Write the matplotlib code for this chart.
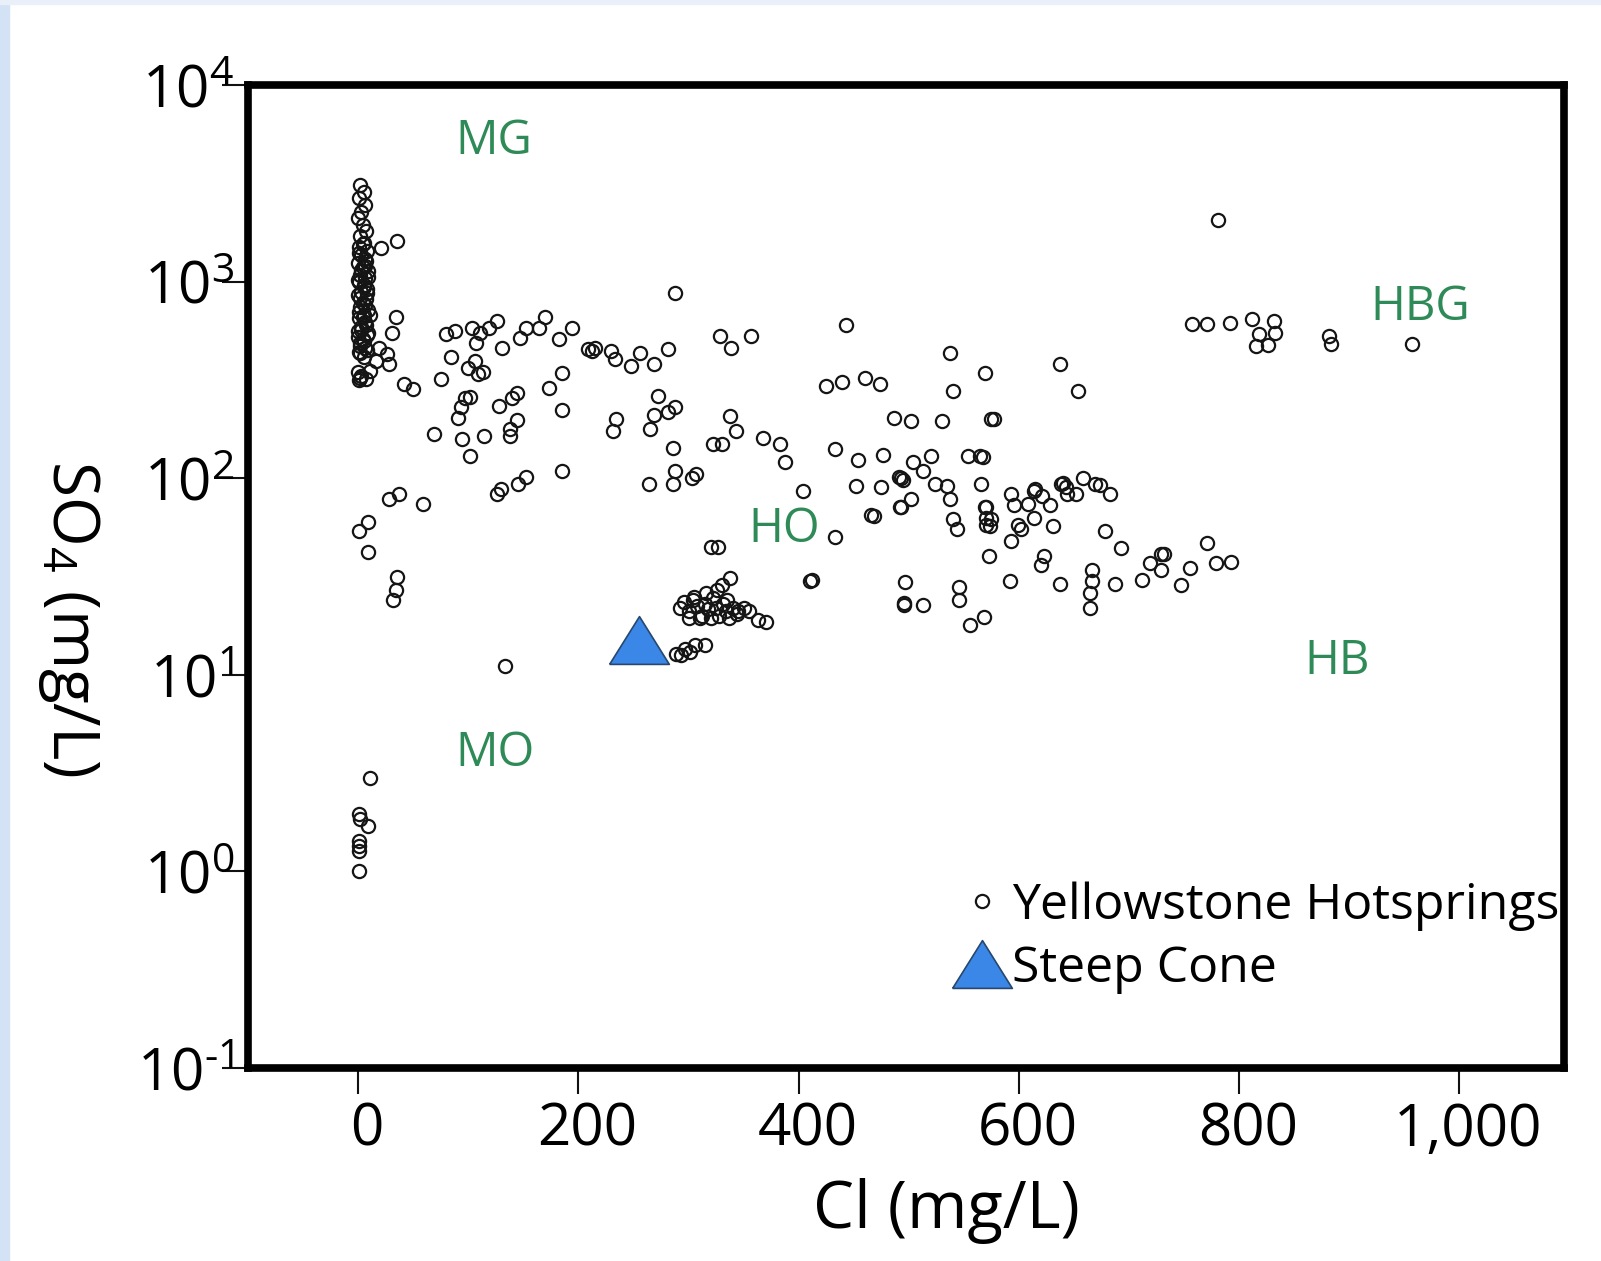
import math
import matplotlib
matplotlib.use("Agg")
import matplotlib.pyplot as plt
from matplotlib.ticker import FixedLocator, FuncFormatter, NullLocator
from matplotlib.patches import Rectangle
from matplotlib.transforms import ScaledTranslation

plt.rcParams['font.family'] = ['Open Sans', 'DejaVu Sans']
plt.rcParams['mathtext.fontset'] = 'custom'
plt.rcParams['mathtext.rm'] = 'Open Sans'
plt.rcParams['mathtext.it'] = 'Open Sans:italic'
plt.rcParams['mathtext.bf'] = 'Open Sans:bold'

# Yellowstone hot springs, Cl vs SO4 (mg/L)
cl_hot = [
    # Cl ~ 0 column
    2, 5, 1, 6, 3, 0, 4, 7, 2, 5, 1, 8, 3, 6, 0, 4, 9, 2, 6, 1, 5, 8, 3, 0, 7, 4, 2, 9, 5, 1,
    6, 3, 0, 8, 4, 2, 6, 1, 5, 3, 7, 0,
    4, 1, 7, 3, 9, 0, 5, 8, 2, 6, 1, 4, 7, 3, 9, 0, 5, 2, 8, 6,
    21, 35, 11, 34, 31, 2, 19, 26, 16, 28, 11, 2, 1, 42, 50,
    # 60-220 upper band
    80, 88, 103, 111, 119, 126, 107, 131, 147, 152, 164, 170, 182, 194, 209, 212, 215, 84, 100, 109,
    113, 106, 75, 185, 173, 97, 102, 93, 91, 128, 140, 144, 185, 144, 138, 138, 69, 94, 114, 102,
    185, 152, 145, 126, 130, 37, 28, 59,
    # low Cl, low SO4
    9, 1, 9, 35, 34, 32, 133, 11, 1, 2, 9, 1, 1, 1, 1,
    # 220-450 upper
    230, 233, 248, 256, 269, 281, 288, 329, 339, 357, 443, 272, 281, 288, 269, 234, 231, 265, 286, 288,
    286, 264, 303, 307, 322, 330, 343, 338, 368, 383, 388, 433, 404, 433,
    # HO cluster
    320, 327, 338, 330, 326, 292, 296, 300, 304, 308, 312, 315, 318, 322, 325, 328, 331, 334, 337, 340,
    344, 300, 310, 320, 335, 305, 316, 345, 350, 355, 363, 370, 297, 306, 315, 293, 301, 289,
    # 400-600
    410, 412, 468, 493, 497, 496, 425, 439, 460, 474, 537, 569, 540, 454, 477, 452, 475, 466, 493, 495,
    491, 504, 520, 513, 524, 535, 537, 502, 492, 530, 554, 565, 567, 566, 487, 502, 540, 544, 569, 570,
    573, 546, 575, 577, 513, 496, 546, 556, 568,
    # 590-800
    637, 654, 570, 570, 575, 574, 593, 596, 608, 614, 615, 621, 628, 638, 640, 643, 644, 652, 658, 669,
    674, 683, 614, 599, 602, 593, 631, 678, 693, 623, 620, 592, 637, 666, 666, 665, 665, 687, 712, 719,
    729, 732, 729, 747, 755, 771, 779, 793,
    # high Cl (HBG)
    781, 757, 771, 792, 812, 832, 818, 833, 815, 826, 882, 883, 957,
]
so4_hot = [
    3100, 2850, 2650, 2450, 2250, 2100, 1950, 1800, 1700, 1580, 1500, 1430, 1360, 1300, 1240, 1180, 1130, 1080, 1040, 1000,
    960, 920, 885, 850, 815, 780, 745, 715, 680, 650, 620, 590, 560, 535, 510, 485, 460, 440, 415, 330,
    320, 345,
    1550, 1400, 1270, 1150, 1060, 1020, 940, 870, 830, 760, 700, 660, 600, 570, 545, 520, 500, 470, 450, 1200,
    1486, 1614, 680, 658, 550, 432, 459, 430, 393, 380, 352, 324, 316, 301, 284,
    542, 562, 584, 550, 578, 633, 488, 459, 518, 584, 578, 658, 508, 584, 453, 445, 460, 415, 365, 340,
    345, 393, 320, 344, 287, 257, 260, 229, 203, 232, 257, 270, 223, 198, 178, 164, 168, 158, 164, 129,
    109, 102, 93, 83, 88, 83, 78, 74,
    60, 54, 42, 31.6, 27, 24, 11.1, 3.0, 1.96, 1.85, 1.71, 1.43, 1.35, 1.27, 1.0,
    443, 402, 374, 432, 383, 453, 877, 530, 459, 530, 604, 261, 218, 229, 210, 200, 174, 178, 142, 109,
    93, 93, 100, 105, 149, 150, 174, 208, 160, 149, 121, 140, 86, 50.5,
    44.8, 44.8, 31, 28.7, 27, 22, 23.5, 21, 24, 22.5, 20, 23, 21.5, 24.5, 22, 20, 23, 21, 19.5, 22,
    20.5, 19.5, 19.5, 19.5, 24, 25, 26, 21, 22, 21, 19.1, 18.6, 13.5, 14.2, 14.2, 12.6, 13, 12.8,
    30, 30.5, 64.5, 71, 29.8, 23.2, 294, 309, 324, 301, 432, 344, 277, 124, 132, 91, 90, 65, 100, 98,
    102, 121, 129, 109, 93, 91, 78, 78, 71, 196, 129, 129, 128, 94, 203, 196, 62, 55, 71, 58,
    40, 28, 200, 200, 22.6, 22.6, 24, 18, 19.8,
    379, 277, 71, 63, 62, 57, 83, 73, 74, 86, 88, 81, 73, 93, 95, 90, 83, 83, 100, 93,
    92, 83, 63, 58, 55, 48, 57, 54, 44, 40, 36, 30, 29, 34, 30, 26, 22, 29, 30.5, 37,
    41, 41, 34, 28.7, 35, 47, 37, 37.4,
    2054, 611, 611, 619, 649, 634, 542, 549, 470, 475, 530, 481, 481,
]

cl_steep = [255]
so4_steep = [15]

region_names = ['MG', 'HBG', 'HO', 'HB', 'MO']
region_cl = [123, 964, 387, 889, 124]
region_so4 = [5200, 741, 55, 11.7, 4.0]

x_ticks = [0, 200, 400, 600, 800, 1000]
y_ticks = [1e-1, 1e0, 1e1, 1e2, 1e3, 1e4]


def y_fmt(v, pos):
    e = int(round(math.log10(v)))
    exp = str(e).replace('-', '\u2010')
    return r'$\mathregular{10^{%s}}$' % exp


fig = plt.figure(figsize=(16.01, 12.61), dpi=100)
fig.patches.append(Rectangle((0, 0), 9 / 1601, 1, transform=fig.transFigure, color='#d3e2f4', zorder=-1))
fig.patches.append(Rectangle((0, 1 - 4 / 1261), 1, 4 / 1261, transform=fig.transFigure, color='#e9f0f9', zorder=-1))

ax = fig.add_axes([0.1549, 0.1530, 0.8220, 0.7796])

ax.plot(cl_hot, so4_hot, linestyle='none', marker='o', ms=9.5, mfc='none', mec='#151515', mew=1.6,
        label='Yellowstone Hotsprings')
tri = [(-1, -0.8), (1, -0.8), (0, 0.8), (-1, -0.8)]
ax.plot(cl_steep, so4_steep, linestyle='none', marker=tri, ms=43, mfc='#3b87e8', mec='#27476d', mew=1.2,
        label='Steep Cone', zorder=3)

for name, xv, yv in zip(region_names, region_cl, region_so4):
    ax.text(xv, yv, name, color='#2e8b57', fontsize=34, ha='center', va='center')

ax.set_yscale('log')
ax.set_xlim(-100, 1095)
ax.set_ylim(1e-1, 1e4)
ax.xaxis.set_major_locator(FixedLocator(x_ticks))
ax.xaxis.set_major_formatter(FuncFormatter(lambda v, p: '{:,.0f}'.format(v)))
ax.yaxis.set_major_locator(FixedLocator(y_ticks))
ax.yaxis.set_minor_locator(NullLocator())
ax.yaxis.set_major_formatter(FuncFormatter(y_fmt))

for sp in ax.spines.values():
    sp.set_linewidth(5.5)
ax.tick_params(axis='x', length=19, width=1.5, labelsize=42, pad=5, color='#111111')
ax.tick_params(axis='y', length=19, width=1.5, labelsize=42, pad=-9, color='#111111')

# labels in the original sit a little to the right of their ticks
shift = ScaledTranslation(0.09, 0, fig.dpi_scale_trans)
for lab in ax.get_xticklabels():
    lab.set_transform(lab.get_transform() + shift)

ax.set_xlabel('Cl (mg/L)', fontsize=47, va='center')
ax.xaxis.set_label_coords(0.531, -0.145)
ax.set_ylabel(r'SO$_\mathregular{4}$ (mg/L)', fontsize=46, rotation=-90, va='center', ha='center')
ax.yaxis.set_label_coords(-0.136, 0.457)

ax.legend(loc='upper left', bbox_to_anchor=(0.535, 0.19), frameon=False, fontsize=36, numpoints=1,
          labelspacing=0.27, borderpad=0, borderaxespad=0, handlelength=1.2, handletextpad=0.0,
          markerscale=1.0)

fig.savefig('out.png', dpi=100)
